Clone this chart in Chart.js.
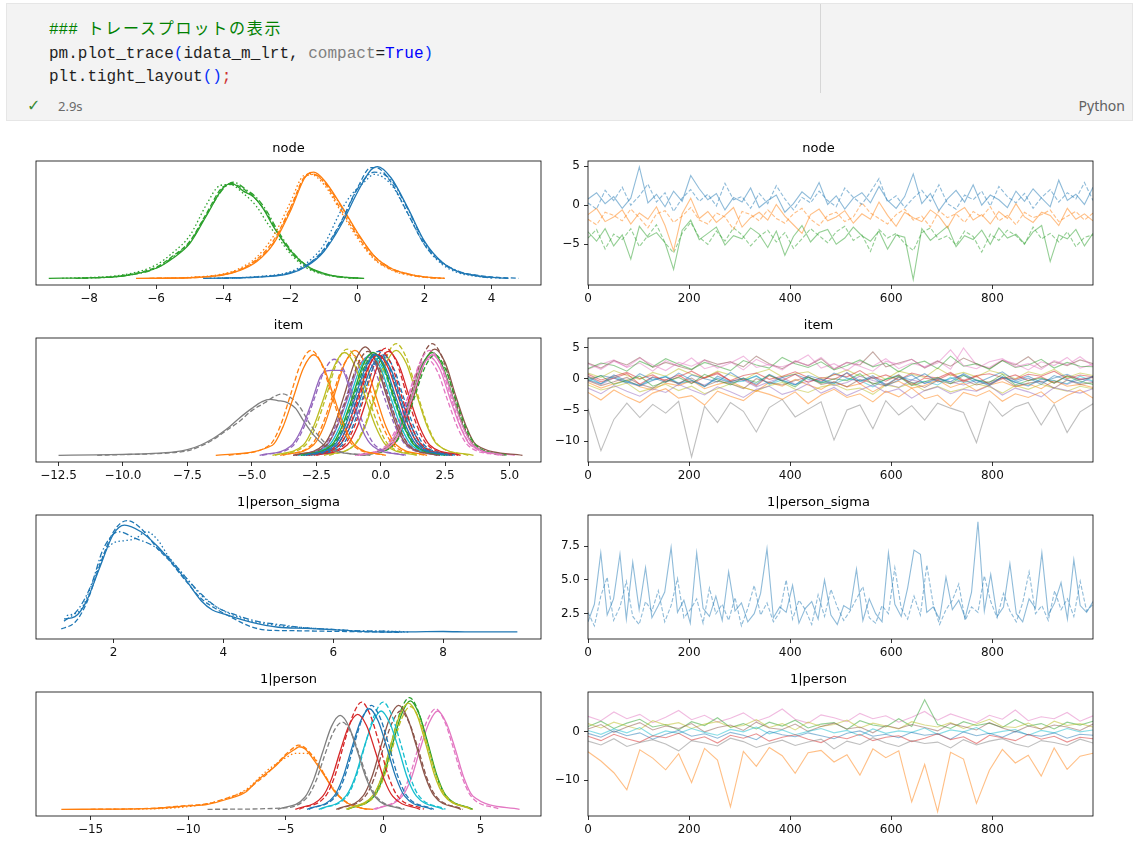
<!DOCTYPE html>
<html>
<head>
<meta charset="utf-8">
<script src="https://cdn.jsdelivr.net/npm/chart.js@4.4.1/dist/chart.umd.min.js"></script>
<style>
  body { margin: 0; background: #fff; width: 1141px; height: 842px; position: relative; overflow: hidden; }
  .cell { position: absolute; left: 6px; top: 3px; width: 1125px; height: 116px; background: #f3f3f3; border: 1px solid #e6e6e6; }
  .code { position: absolute; left: 42px; top: 12px; margin: 0; font: 16px/23.5px "Liberation Mono", "Noto Sans CJK JP", monospace; color: #1f1f1f; }
  .code .c { color: #008000; }
  .code .jp { font-family: "Noto Sans CJK JP", sans-serif; letter-spacing: 1.8px; }
  .code .b { color: #0431fa; }
  .code .g { color: #808080; }
  .code .k { color: #0000ff; }
  .code .r { color: #cd3131; }
  .sep { position: absolute; left: 813px; top: 0; width: 1px; height: 89px; background: #d6d6d6; }
  .check { position: absolute; left: 20px; top: 92px; font: 16px/20px "DejaVu Sans", sans-serif; color: #388a34; }
  .time { position: absolute; left: 51px; top: 93px; font: 13px/18px "Noto Sans", sans-serif; color: #6a6a6a; }
  .lang { position: absolute; right: 7px; top: 92px; font: 14px/20px "Noto Sans", sans-serif; color: #616161; }
  .panel { position: absolute; }
</style>
</head>
<body>
<div class="cell">
  <div class="sep"></div>
  <pre class="code"><span class="c">### <span class="jp">トレースプロットの表示</span></span>
pm.plot_trace<span class="b">(</span>idata_m_lrt, <span class="g">compact</span>=<span class="k">True</span><span class="b">)</span>
plt.tight_layout<span class="b">()</span><span class="r">;</span></pre>
  <div class="check">✓</div>
  <div class="time">2.9s</div>
  <div class="lang">Python</div>
</div>

<div class="panel" style="left:16px;top:137px"><canvas id="nodeKde" width="539" height="174"></canvas></div>
<div class="panel" style="left:544px;top:137px"><canvas id="nodeTrace" width="563" height="174"></canvas></div>
<div class="panel" style="left:16px;top:314px"><canvas id="itemKde" width="539" height="174"></canvas></div>
<div class="panel" style="left:544px;top:314px"><canvas id="itemTrace" width="563" height="174"></canvas></div>
<div class="panel" style="left:16px;top:491px"><canvas id="sigmaKde" width="539" height="174"></canvas></div>
<div class="panel" style="left:544px;top:491px"><canvas id="sigmaTrace" width="563" height="174"></canvas></div>
<div class="panel" style="left:16px;top:668px"><canvas id="personKde" width="539" height="174"></canvas></div>
<div class="panel" style="left:544px;top:668px"><canvas id="personTrace" width="563" height="174"></canvas></div>

<script>
const C0 = '#1f77b4', C1 = '#ff7f0e', C2 = '#2ca02c', C3 = '#d62728', C4 = '#9467bd';
const C5 = '#8c564b', C6 = '#e377c2', C7 = '#7f7f7f', C8 = '#bcbd22', C9 = '#17becf';

// ---- tick values / labels ----
const traceTicks = [0, 200, 400, 600, 800];
const traceLabels = ['0', '200', '400', '600', '800'];
const nodeKdeTicks = [-8, -6, -4, -2, 0, 2, 4];
const nodeKdeLabels = ['−8', '−6', '−4', '−2', '0', '2', '4'];
const nodeTraceTicks = [-5, 0, 5];
const nodeTraceLabels = ['−5', '0', '5'];
const itemKdeTicks = [-12.5, -10, -7.5, -5, -2.5, 0, 2.5, 5];
const itemKdeLabels = ['−12.5', '−10.0', '−7.5', '−5.0', '−2.5', '0.0', '2.5', '5.0'];
const itemTraceTicks = [-10, -5, 0, 5];
const itemTraceLabels = ['−10', '−5', '0', '5'];
const sigmaKdeTicks = [2, 4, 6, 8];
const sigmaKdeLabels = ['2', '4', '6', '8'];
const sigmaTraceTicks = [2.5, 5, 7.5];
const sigmaTraceLabels = ['2.5', '5.0', '7.5'];
const personKdeTicks = [-15, -10, -5, 0, 5];
const personKdeLabels = ['−15', '−10', '−5', '0', '5'];
const personTraceTicks = [-10, 0];
const personTraceLabels = ['−10', '0'];

// ---- node: kde (x, relative density) per variable and chain ----
const nodeColors = [C0, C1, C2];
const nodeKde = [
  [
    [[-4.6,0],[-3,.01],[-2,.045],[-1.5,.11],[-1,.24],[-0.5,.47],[0,.77],[0.4,.97],[0.6,1],[1,.9],[1.5,.63],[2,.33],[2.5,.15],[3,.06],[3.5,.025],[4,.008],[4.5,0]],
    [[-4.2,0],[-3,.012],[-2,.05],[-1.5,.12],[-1,.26],[-0.5,.5],[0,.81],[0.4,.99],[0.55,.99],[1,.86],[1.5,.58],[2,.3],[2.5,.14],[3,.06],[3.5,.03],[4,.012],[4.8,0]],
    [[-4.4,0],[-3,.015],[-2,.06],[-1.5,.14],[-1,.3],[-0.5,.6],[-0.2,.74],[0.2,.86],[0.5,.93],[1,.84],[1.5,.58],[2,.3],[2.5,.13],[3,.05],[3.5,.02],[4,.006],[4.3,0]],
    [[-4,0],[-3,.01],[-2,.05],[-1.5,.12],[-1,.25],[-0.5,.49],[0,.8],[0.5,.95],[1,.88],[1.5,.62],[2,.32],[2.5,.15],[3,.065],[3.5,.025],[4,0]]
  ],
  [
    [[-6.6,0],[-5,.005],[-4,.03],[-3.5,.07],[-3,.15],[-2.5,.31],[-2,.6],[-1.5,.93],[-1.3,.95],[-1,.88],[-0.5,.66],[0,.41],[0.5,.2],[1,.09],[1.5,.04],[2,.012],[2.6,0]],
    [[-6.2,0],[-5,.006],[-4,.035],[-3.5,.08],[-3,.17],[-2.5,.34],[-2,.63],[-1.6,.9],[-1.4,.94],[-1,.86],[-0.5,.62],[0,.38],[0.5,.18],[1,.08],[1.5,.035],[2,.01],[2.5,0]],
    [[-5.8,0],[-5,.008],[-4,.04],[-3.5,.09],[-3,.19],[-2.5,.38],[-2,.68],[-1.6,.92],[-1.4,.93],[-1,.84],[-0.5,.6],[0,.36],[0.5,.17],[1,.075],[1.5,.03],[2,.01],[2.4,0]],
    [[-6,0],[-5,.005],[-4,.03],[-3.5,.075],[-3,.16],[-2.5,.32],[-2,.62],[-1.5,.92],[-1.3,.93],[-1,.87],[-0.5,.65],[0,.4],[0.5,.2],[1,.09],[1.5,.04],[2,.012],[2.6,0]]
  ],
  [
    [[-9.2,0],[-8,.004],[-7,.02],[-6,.09],[-5.5,.18],[-5,.31],[-4.5,.56],[-4,.81],[-3.75,.85],[-3.4,.78],[-3.1,.73],[-2.8,.62],[-2.5,.46],[-2,.25],[-1.5,.11],[-1,.045],[-0.5,.012],[0.2,0]],
    [[-8.4,0],[-7,.025],[-6,.1],[-5.5,.2],[-5,.33],[-4.5,.58],[-4,.82],[-3.7,.84],[-3.3,.78],[-3,.7],[-2.7,.58],[-2.4,.42],[-2,.24],[-1.5,.1],[-1,.04],[-0.4,.01],[0.1,0]],
    [[-8.8,0],[-7,.03],[-6,.12],[-5.5,.23],[-5,.38],[-4.5,.66],[-4.1,.83],[-3.8,.84],[-3.4,.76],[-3,.64],[-2.7,.5],[-2.4,.38],[-2,.22],[-1.5,.09],[-1,.035],[-0.5,.01],[0,0]],
    [[-8.2,0],[-7,.02],[-6,.09],[-5.5,.19],[-5,.32],[-4.5,.57],[-4,.8],[-3.7,.86],[-3.3,.79],[-3,.72],[-2.7,.6],[-2.4,.44],[-2,.26],[-1.5,.11],[-1,.04],[-0.5,.01],[0.1,0]]
  ]
];

// ---- node: draws (two chains per variable) ----
const nodeTrace = [
  [
    [0.8,1.6,0.2,1.1,-0.4,0.9,4.9,0.3,1.4,-0.2,1.8,0.5,3.8,2.1,0.7,1.5,-0.6,1.0,0.4,2.2,-0.3,0.6,1.3,-0.9,0.2,1.7,0.8,2.9,0.1,1.2,-0.5,0.9,1.6,0.3,2.4,0.6,-0.4,1.1,4.0,0.2,1.5,-0.7,0.8,1.9,0.4,2.6,0.0,1.3,0.7,-0.3,1.8,0.5,2.1,0.9,-0.2,3.2,0.6,1.4,0.1,2.3],
    [0.3,-0.5,1.9,0.6,2.3,0.0,1.2,2.7,0.4,1.6,-0.8,0.9,2.0,0.5,1.4,-0.1,2.8,0.7,1.1,-0.4,1.5,0.2,2.5,0.8,-0.6,1.0,0.3,1.8,0.6,-0.2,2.2,1.0,0.1,1.7,3.4,0.4,1.2,-0.3,0.9,1.9,0.5,2.6,0.2,-0.5,1.3,0.7,1.8,-0.1,2.4,1.1,0.3,1.5,-0.4,1.0,2.0,0.4,1.6,0.8,2.9,0.6]
  ],
  [
    [-1.2,-0.4,-2.1,-1.5,-0.6,-2.4,-1.0,-1.8,-0.2,-2.6,-5.8,-1.1,0.9,-1.7,-0.8,-2.2,-1.3,-0.3,-2.8,-1.6,-0.9,-1.9,0.1,-1.4,-2.5,-3.6,-1.2,-0.5,-2.0,-1.5,-0.7,-2.3,-1.1,-1.8,0.4,-1.3,-2.7,-0.9,-1.6,-2.1,-0.6,-1.4,-2.9,-1.0,-0.3,-1.9,-1.2,-2.4,-0.8,-1.7,0.2,-1.5,-2.2,-0.9,-1.3,-2.6,-0.4,-1.8,-1.1,-2.0],
    [-1.8,-2.5,-0.9,-1.3,-2.0,-0.5,-1.6,-2.9,-1.1,-0.7,-2.2,-1.4,-0.3,-1.9,-2.4,-1.0,-1.5,-3.1,-0.8,-1.2,-2.0,-0.6,-1.7,-2.3,-1.1,-0.4,-1.8,-2.6,-1.3,-0.9,-2.1,-1.5,0.3,-1.0,-1.7,-2.4,-1.2,-0.5,-1.9,-1.4,-2.8,-0.7,-1.6,-1.1,-2.2,-0.8,-1.5,-0.2,-2.0,-1.3,-2.5,-0.9,-1.6,-1.2,-0.6,-2.1,-1.4,-0.8,-1.9,-1.0]
  ],
  [
    [-3.4,-4.6,-3.0,-5.2,-3.8,-6.9,-2.7,-4.1,-3.5,-4.8,-8.2,-3.2,-1.9,-4.4,-3.6,-2.8,-5.1,-3.9,-4.3,-2.9,-3.7,-5.4,-3.3,-6.4,-4.0,-2.6,-4.7,-3.5,-3.1,-5.0,-4.2,-2.8,-3.9,-4.6,-3.3,-5.6,-3.8,-4.1,-9.5,-3.0,-4.5,-3.6,-2.7,-5.3,-3.9,-4.4,-3.2,-5.0,-2.9,-4.2,-3.7,-4.9,-3.4,-2.6,-7.2,-3.8,-4.3,-3.1,-5.2,-3.6],
    [-4.2,-3.1,-5.6,-3.7,-4.4,-3.0,-5.3,-3.9,-2.5,-4.8,-6.1,-3.6,-2.2,-4.1,-5.0,-3.3,-4.6,-2.9,-3.8,-5.2,-4.0,-3.2,-4.7,-3.5,-5.5,-4.3,-3.0,-3.9,-4.8,-3.4,-2.7,-4.5,-3.8,-5.9,-3.1,-4.2,-3.6,-4.9,-5.8,-3.5,-2.9,-4.4,-3.9,-5.1,-3.3,-4.0,-6.0,-3.7,-4.5,-3.2,-3.9,-5.0,-2.8,-4.3,-3.6,-4.7,-3.4,-5.3,-4.1,-3.8]
  ]
];

// ---- item ----
const itemColors = [C0, C1, C2, C3, C4, C5, C6, C7, C8, C9, C0, C1, C2, C3, C4, C5, C6, C8];
const itemKde = [
  [[[-3.0,0],[-1.8,.09],[-1.4,.25],[-1.0,.51],[-0.6,.78],[-0.2,.9],[0.2,.78],[0.6,.51],[1.0,.25],[1.4,.09],[2.6,0]],
   [[-2.9,0],[-1.7,.093],[-1.3,.26],[-0.9,.53],[-0.5,.81],[-0.1,.93],[0.3,.81],[0.7,.53],[1.1,.26],[1.5,.093],[2.7,0]]],
  [[[-6.4,0],[-4.2,.09],[-3.8,.25],[-3.4,.51],[-3.0,.78],[-2.6,.9],[-2.2,.78],[-1.8,.51],[-1.4,.25],[-1.0,.09],[0.2,0]],
   [[-5.9,0],[-4.3,.094],[-3.9,.26],[-3.5,.54],[-3.1,.82],[-2.7,.94],[-2.3,.82],[-1.9,.54],[-1.5,.26],[-1.1,.094],[0.1,0]]],
  [[[-3.1,0],[-1.9,.092],[-1.5,.26],[-1.1,.52],[-0.7,.8],[-0.3,.92],[0.1,.8],[0.5,.52],[0.9,.26],[1.3,.092],[2.5,0]],
   [[-3.0,0],[-1.85,.09],[-1.45,.25],[-1.05,.51],[-0.65,.78],[-0.25,.9],[0.15,.78],[0.55,.51],[0.95,.25],[1.35,.09],[2.6,0]]],
  [[[-2.9,0],[-1.7,.09],[-1.3,.25],[-0.9,.51],[-0.5,.78],[-0.1,.9],[0.3,.78],[0.7,.51],[1.1,.25],[1.5,.09],[2.7,0]],
   [[-2.8,0],[-1.6,.094],[-1.2,.26],[-0.8,.54],[-0.4,.82],[0,.94],[0.4,.82],[0.8,.54],[1.2,.26],[1.6,.094],[2.8,0]]],
  [[[-4.7,0],[-3.5,.08],[-3.1,.22],[-2.7,.46],[-2.3,.72],[-1.9,.76],[-1.5,.76],[-1.1,.5],[-0.7,.22],[-0.3,.08],[0.9,0]],
   [[-4.6,0],[-3.4,.086],[-3.0,.24],[-2.6,.49],[-2.2,.75],[-1.8,.86],[-1.4,.75],[-1.0,.49],[-0.6,.24],[-0.2,.086],[1.0,0]]],
  [[[-3.4,0],[-2.2,.097],[-1.8,.27],[-1.4,.55],[-1.0,.84],[-0.6,.97],[-0.2,.84],[0.2,.55],[0.6,.27],[1.0,.097],[2.2,0]],
   [[-3.3,0],[-2.1,.093],[-1.7,.26],[-1.3,.53],[-0.9,.81],[-0.5,.93],[-0.1,.81],[0.3,.53],[0.7,.26],[1.1,.093],[2.3,0]]],
  [[[-0.8,0],[0.4,.09],[0.8,.25],[1.2,.51],[1.6,.78],[2.0,.9],[2.4,.78],[2.8,.51],[3.2,.25],[3.6,.09],[4.8,0]],
   [[-0.9,0],[0.3,.094],[0.7,.26],[1.1,.54],[1.5,.82],[1.9,.94],[2.3,.82],[2.7,.54],[3.1,.26],[3.5,.094],[4.7,0]]],
  [[[-12.5,0],[-11,.003],[-10,.008],[-9,.015],[-8,.03],[-7.5,.05],[-7,.09],[-6.5,.15],[-6,.23],[-5.5,.33],[-5,.42],[-4.6,.48],[-4.3,.5],[-4,.49],[-3.6,.47],[-3.3,.42],[-3,.31],[-2.6,.18],[-2.2,.09],[-1.8,.04],[-1.4,.02],[-1,.01],[-0.4,0]],
   [[-11,0],[-10,.006],[-9,.012],[-8,.025],[-7.5,.04],[-7,.08],[-6.5,.14],[-6,.22],[-5.5,.3],[-5,.4],[-4.5,.47],[-4.1,.53],[-3.8,.55],[-3.4,.5],[-3.1,.42],[-2.8,.3],[-2.4,.17],[-2,.08],[-1.6,.035],[-1.2,.015],[-0.6,0]]],
  [[[-4.2,0],[-3.0,.092],[-2.6,.26],[-2.2,.52],[-1.8,.8],[-1.4,.92],[-1.0,.8],[-0.6,.52],[-0.2,.26],[0.2,.092],[1.4,0]],
   [[-4.1,0],[-2.9,.095],[-2.5,.27],[-2.1,.54],[-1.7,.83],[-1.3,.95],[-0.9,.83],[-0.5,.54],[-0.1,.27],[0.3,.095],[1.5,0]]],
  [[[-3.2,0],[-2.0,.09],[-1.6,.25],[-1.2,.51],[-0.8,.78],[-0.4,.9],[0,.78],[0.4,.51],[0.8,.25],[1.2,.09],[2.4,0]],
   [[-3.1,0],[-1.9,.088],[-1.5,.25],[-1.1,.5],[-0.7,.77],[-0.3,.88],[0.1,.77],[0.5,.5],[0.9,.25],[1.3,.088],[2.5,0]]],
  [[[-2.8,0],[-1.6,.088],[-1.2,.25],[-0.8,.5],[-0.4,.77],[0,.88],[0.4,.77],[0.8,.5],[1.2,.25],[1.6,.088],[2.8,0]],
   [[-2.7,0],[-1.5,.09],[-1.1,.25],[-0.7,.51],[-0.3,.78],[0.1,.9],[0.5,.78],[0.9,.51],[1.3,.25],[1.7,.09],[2.9,0]]],
  [[[-3.8,0],[-2.6,.094],[-2.2,.26],[-1.8,.54],[-1.4,.82],[-1.0,.94],[-0.6,.82],[-0.2,.54],[0.2,.26],[0.6,.094],[1.8,0]],
   [[-3.9,0],[-2.7,.09],[-2.3,.25],[-1.9,.51],[-1.5,.78],[-1.1,.9],[-0.7,.78],[-0.3,.51],[0.1,.25],[0.5,.09],[1.7,0]]],
  [[[-0.8,0],[0.4,.092],[0.8,.26],[1.2,.52],[1.6,.8],[2.0,.92],[2.4,.8],[2.8,.52],[3.2,.26],[3.6,.092],[4.8,0]],
   [[-0.7,0],[0.5,.09],[0.9,.25],[1.3,.51],[1.7,.78],[2.1,.9],[2.5,.78],[2.9,.51],[3.3,.25],[3.7,.09],[4.9,0]]],
  [[[-2.5,0],[-1.3,.093],[-0.9,.26],[-0.5,.53],[-0.1,.81],[0.3,.93],[0.7,.81],[1.1,.53],[1.5,.26],[1.9,.093],[3.1,0]],
   [[-2.6,0],[-1.4,.096],[-1.0,.27],[-0.6,.55],[-0.2,.84],[0.2,.96],[0.6,.84],[1.0,.55],[1.4,.27],[1.8,.096],[3.0,0]]],
  [[[-3.3,0],[-2.1,.088],[-1.7,.25],[-1.3,.5],[-0.9,.77],[-0.5,.88],[-0.1,.77],[0.3,.5],[0.7,.25],[1.1,.088],[2.3,0]],
   [[-3.4,0],[-2.2,.085],[-1.8,.24],[-1.4,.48],[-1.0,.74],[-0.6,.85],[-0.2,.74],[0.2,.48],[0.6,.24],[1.0,.085],[2.2,0]]],
  [[[-0.7,0],[0.5,.095],[0.9,.27],[1.3,.54],[1.7,.83],[2.1,.95],[2.5,.83],[2.9,.54],[3.3,.27],[3.7,.095],[5.5,0]],
   [[-0.8,0],[0.4,.1],[0.8,.28],[1.2,.57],[1.6,.87],[2.0,1.0],[2.4,.87],[2.8,.57],[3.2,.28],[3.6,.1],[4.8,0]]],
  [[[-0.9,0],[0.3,.088],[0.7,.25],[1.1,.5],[1.5,.77],[1.9,.88],[2.3,.77],[2.7,.5],[3.1,.25],[3.5,.088],[5.2,0]],
   [[-1.0,0],[0.2,.086],[0.6,.24],[1.0,.49],[1.4,.75],[1.8,.86],[2.2,.75],[2.6,.49],[3.0,.24],[3.4,.086],[4.6,0]]],
  [[[-2.2,0],[-1.0,.094],[-0.6,.26],[-0.2,.54],[0.2,.82],[0.6,.94],[1.0,.82],[1.4,.54],[1.8,.26],[2.2,.094],[3.6,0]],
   [[-2.0,0],[-1.0,.1],[-0.6,.28],[-0.2,.57],[0.2,.87],[0.6,1.0],[1.0,.87],[1.4,.57],[1.8,.28],[2.2,.1],[3.4,0]]]
];
const itemTrace = [
  [0.3,-0.8,0.6,-0.4,-1.1,0.2,-0.6,0.9,-0.2,-1.3,0.4,-0.5,0.1,-0.9,0.7,-0.3,-1.0,0.5,-0.1,-0.7,1.0,-0.4,0.2,-1.2,-0.2,0.6,-0.8,0.0,-0.5,0.8,-0.3,-1.1,0.3,-0.6,0.1,-0.9,0.5,-0.2,-0.7,0.4],
  [-2.2,-3.4,-1.8,-2.9,-3.8,-2.3,-1.6,-3.1,-2.7,-4.2,-2.0,-2.8,-3.5,-1.9,-2.5,-3.3,-2.1,-4.0,-2.6,-1.7,-3.0,-2.4,-3.7,-2.0,-2.9,-1.5,-3.2,-2.6,-4.4,-2.2,-2.8,-1.9,-3.6,-2.4,-3.0,-2.1,-3.9,-2.7,-1.8,-3.1],
  [-0.1,0.5,-0.9,-0.3,0.4,-1.2,-0.5,0.2,-0.8,0.7,-0.2,-1.0,0.1,-0.6,0.6,-0.4,-1.3,0.3,-0.7,0.0,-0.3,0.8,-0.9,-0.1,0.4,-1.1,-0.5,0.2,-0.8,0.5,-0.2,-0.6,0.7,-1.0,-0.3,0.1,-0.7,0.4,-0.4,-0.9],
  [0.4,-0.5,0.1,0.8,-0.9,0.3,-0.2,0.6,-0.7,0.2,1.0,-0.4,0.0,-1.1,0.5,-0.3,0.7,-0.6,0.2,-0.1,0.9,-0.8,0.3,-0.4,0.6,-1.0,0.1,-0.2,0.8,-0.5,0.4,-0.9,0.0,0.6,-0.3,0.3,-0.7,0.5,-0.1,0.2],
  [-1.5,-2.4,-1.1,-2.0,-2.8,-1.6,-2.2,-0.9,-1.8,-2.6,-1.3,-2.1,-3.0,-1.7,-1.2,-2.5,-1.9,-0.8,-2.3,-1.4,-2.7,-1.8,-1.0,-2.2,-1.6,-3.1,-1.9,-1.3,-2.4,-1.7,-2.0,-1.1,-2.6,-1.5,-2.1,-2.9,-1.4,-1.9,-2.3,-1.6],
  [-0.3,-1.1,-0.5,0.2,-0.9,-1.5,-0.2,-0.7,0.1,-1.2,-0.4,-0.8,-1.6,0.0,-0.6,-1.0,-0.3,0.3,-0.9,-0.5,-1.3,-0.1,-0.7,-1.1,0.2,-0.6,-1.4,-0.3,-0.8,-0.2,-1.0,-0.5,0.1,-1.2,-0.7,-0.4,-1.5,-0.2,-0.9,-0.6],
  [2.4,1.5,2.8,1.9,3.3,2.2,1.3,2.6,2.0,3.0,1.7,2.5,3.6,1.8,2.3,1.4,2.9,2.1,3.4,1.6,2.6,2.0,1.2,2.8,2.3,3.1,1.8,2.5,4.6,2.1,1.6,2.7,3.2,1.9,2.4,1.5,2.9,2.2,3.5,2.0],
  [-4.8,-11.5,-6.5,-3.9,-6.2,-4.1,-5.5,-3.6,-12.5,-4.4,-7.0,-3.8,-5.2,-8.5,-4.6,-3.3,-6.1,-4.9,-3.7,-9.8,-5.0,-4.2,-8.0,-3.5,-5.8,-4.3,-6.6,-3.9,-4.7,-5.4,-10.2,-3.6,-6.0,-4.5,-3.8,-7.4,-4.1,-8.6,-5.3,-4.0],
  [-1.0,-1.8,-1.3,-0.7,-2.1,-1.5,-0.9,-1.9,-1.2,-2.4,-1.6,-0.8,-1.4,-2.0,-1.1,-0.6,-1.7,-2.2,-1.3,-0.9,-1.8,-1.5,-2.5,-1.0,-1.4,-0.7,-1.9,-1.2,-2.1,-1.6,-0.8,-1.3,-2.3,-1.1,-1.7,-0.9,-1.5,-2.0,-1.2,-1.6],
  [-0.1,-0.8,0.3,-0.5,-1.1,-0.2,0.4,-0.7,-0.3,-1.2,0.1,-0.6,-0.4,0.5,-0.9,-0.2,-1.0,0.2,-0.5,-0.8,0.0,-0.3,-1.3,-0.1,0.6,-0.7,-0.4,-1.0,0.2,-0.6,-0.2,-0.9,0.3,-0.5,-1.1,0.0,-0.3,-0.8,0.4,-0.4],
  [-0.4,0.5,0.1,-0.7,0.8,-0.2,0.3,-0.9,0.6,0.0,-0.5,1.0,-0.3,0.4,-0.8,0.2,0.7,-0.1,-0.6,0.9,0.1,-0.4,0.5,-1.0,0.3,-0.2,0.8,-0.5,0.0,0.6,-0.7,0.2,1.1,-0.3,0.4,-0.6,0.1,0.7,-0.2,0.3],
  [-0.6,-1.5,-0.8,-0.2,-1.3,-1.8,-0.7,-1.1,-0.3,-1.6,-0.9,-0.4,-1.4,-2.0,-0.6,-1.2,-0.1,-1.0,-1.7,-0.5,-1.3,-0.8,-2.1,-0.9,-0.4,-1.5,-1.1,-0.2,-1.4,-0.7,-1.9,-1.0,-0.5,-1.3,-0.8,-1.6,-0.3,-1.2,-0.9,-1.4],
  [1.6,2.5,2.1,1.2,2.8,1.9,3.2,2.3,1.5,2.6,2.0,1.3,2.9,2.2,1.7,3.4,2.4,1.8,2.7,1.4,2.1,3.0,1.9,2.5,1.1,2.3,2.8,1.6,3.6,2.0,2.4,1.5,2.9,1.8,2.2,3.1,1.7,2.6,2.0,1.9],
  [0.7,-0.2,0.4,1.0,0.0,0.6,-0.5,0.3,1.2,0.1,0.8,-0.3,0.5,0.9,-0.1,0.4,1.1,0.2,-0.4,0.7,0.3,1.3,0.0,0.6,-0.2,0.9,0.4,0.1,1.0,-0.3,0.5,0.8,0.2,-0.1,0.7,0.4,1.2,0.0,0.6,0.3],
  [-0.2,-0.9,0.1,-0.6,-1.2,-0.3,0.3,-0.8,-0.4,-1.0,0.0,-0.7,-0.2,-1.3,-0.5,0.2,-0.9,-0.4,-0.1,-1.1,-0.6,0.4,-0.3,-0.8,-1.4,-0.2,-0.7,0.1,-0.5,-1.0,-0.3,-0.8,0.2,-0.6,-1.2,-0.1,-0.4,-0.9,0.0,-0.5],
  [2.5,1.7,2.9,2.2,3.4,1.8,2.6,2.0,1.4,3.0,2.3,2.7,1.9,3.6,2.4,1.6,2.8,2.1,3.2,1.5,2.6,2.2,4.3,1.9,2.5,3.1,1.7,2.8,2.0,3.3,2.4,1.6,2.9,2.2,3.5,1.8,2.7,2.1,3.0,2.4],
  [1.5,2.3,3.0,1.8,2.5,1.2,2.9,2.0,3.3,1.6,2.2,2.7,1.4,3.1,2.1,1.9,2.6,3.8,1.7,2.4,1.3,2.8,2.0,3.2,1.6,2.5,1.9,2.9,1.5,4.9,2.2,1.8,3.0,2.4,1.4,2.7,2.1,3.4,1.7,2.3],
  [0.9,0.2,1.3,0.5,-0.1,1.0,0.4,1.6,0.7,0.1,1.2,0.6,-0.2,0.9,1.5,0.3,0.8,1.1,0.0,0.6,1.4,0.4,0.9,-0.1,1.2,0.7,0.2,1.7,0.5,1.0,0.3,1.3,0.8,0.0,1.1,0.6,1.5,0.2,0.9,0.5]
];

// ---- 1|person_sigma ----
const sigmaKde = [
  [[1.1,.12],[1.3,.14],[1.5,.27],[1.75,.58],[2.0,.88],[2.2,.96],[2.5,.9],[2.8,.77],[3.0,.66],[3.3,.48],[3.6,.28],[3.8,.2],[4.0,.165],[4.5,.09],[5.0,.045],[5.5,.036],[6.0,.024],[6.5,.008],[7.0,.002],[7.5,.004],[8.0,.007],[8.5,.003],[9.35,.004]],
  [[1.05,.03],[1.3,.09],[1.5,.25],[1.75,.6],[2.0,.9],[2.25,1.0],[2.5,.93],[2.8,.75],[3.0,.65],[3.3,.47],[3.6,.3],[3.9,.2],[4.2,.12],[4.5,.05],[4.8,.02],[5.2,.015],[5.8,.01],[6.5,.005],[7.2,0]],
  [[1.15,.15],[1.4,.2],[1.6,.42],[1.8,.68],[2.0,.8],[2.2,.82],[2.4,.84],[2.6,.9],[2.8,.83],[3.0,.68],[3.3,.5],[3.6,.33],[3.9,.22],[4.2,.15],[4.6,.09],[5.0,.06],[5.5,.04],[6.0,.025],[6.6,.01],[7.2,.008],[7.4,0]],
  [[1.1,.1],[1.35,.2],[1.6,.43],[1.8,.73],[2.0,.88],[2.1,.9],[2.4,.84],[2.7,.78],[3.0,.67],[3.3,.5],[3.6,.34],[3.9,.22],[4.2,.16],[4.6,.1],[5.0,.07],[5.5,.04],[6.0,.025],[6.5,.012],[7.0,.01],[7.3,0]]
];
const sigmaTrace = [
  [1.9,3.2,7.0,2.4,3.6,6.9,2.1,6.3,2.8,5.9,2.2,3.1,4.1,7.4,2.6,3.5,1.8,7.0,2.9,2.3,3.8,2.0,5.6,2.7,3.3,1.9,2.5,4.0,7.3,2.2,3.0,2.6,4.6,1.8,2.9,3.4,2.1,5.0,2.4,1.7,3.1,2.8,5.8,2.0,3.6,2.5,1.9,7.0,3.2,2.3,4.4,7.2,6.9,2.6,3.0,2.1,5.2,2.8,3.5,2.2,4.1,9.3,2.7,5.4,2.3,3.0,6.2,2.5,1.9,3.6,2.9,7.0,2.4,3.3,4.8,2.1,6.5,3.1,2.6,3.4],
  [2.6,1.6,3.8,5.2,2.0,3.0,4.9,2.3,1.7,3.4,2.7,4.2,1.9,3.1,5.1,2.2,2.8,3.6,1.8,4.4,2.5,3.2,2.0,3.7,1.6,2.9,4.6,2.4,3.3,1.9,2.6,5.0,2.1,3.5,2.8,1.7,3.9,2.3,4.3,3.0,2.0,2.7,3.6,4.5,2.2,1.8,3.1,2.5,5.9,2.9,2.1,3.8,2.4,6.1,3.2,1.7,2.8,3.5,4.7,2.0,3.0,2.6,5.3,3.4,2.2,4.0,2.7,1.9,3.3,5.6,2.5,3.1,2.0,4.2,2.8,3.6,2.3,4.9,2.7,3.2]
];

// ---- 1|person ----
const personColors = [C7, C3, C0, C9, C5, C8, C2, C6, C1];
const personKde = [
  [[[-5.4,0],[-4.0,.11],[-3.55,.27],[-3.1,.51],[-2.65,.74],[-2.2,.84],[-1.75,.74],[-1.3,.51],[-0.85,.27],[-0.4,.11],[1.0,0]],
   [[-9.0,0],[-5.3,.01],[-3.9,.105],[-3.45,.25],[-3.0,.48],[-2.55,.69],[-2.1,.78],[-1.65,.69],[-1.2,.48],[-0.75,.25],[-0.3,.105],[1.1,0]]],
  [[[-4.5,0],[-3.1,.115],[-2.65,.27],[-2.2,.52],[-1.75,.75],[-1.3,.85],[-0.85,.75],[-0.4,.52],[0.05,.27],[0.5,.115],[1.9,0]],
   [[-4.3,0],[-2.9,.13],[-2.45,.31],[-2.0,.59],[-1.55,.84],[-1.1,.96],[-0.65,.84],[-0.2,.59],[0.25,.31],[0.7,.13],[2.1,0]]],
  [[[-3.9,0],[-2.5,.12],[-2.05,.29],[-1.6,.55],[-1.15,.79],[-0.7,.9],[-0.25,.79],[0.2,.55],[0.65,.29],[1.1,.12],[2.5,0]],
   [[-3.8,0],[-2.4,.125],[-1.95,.3],[-1.5,.57],[-1.05,.82],[-0.6,.93],[-0.15,.82],[0.3,.57],[0.75,.3],[1.2,.125],[2.6,0]]],
  [[[-3.3,0],[-1.9,.12],[-1.45,.28],[-1.0,.54],[-0.55,.77],[-0.1,.88],[0.35,.77],[0.8,.54],[1.25,.28],[1.7,.12],[3.1,0]],
   [[-3.2,0],[-1.8,.13],[-1.35,.31],[-0.9,.59],[-0.45,.84],[0,.96],[0.45,.84],[0.9,.59],[1.35,.31],[1.8,.13],[3.2,0]]],
  [[[-2.4,0],[-1.0,.125],[-0.55,.3],[-0.1,.57],[0.35,.82],[0.8,.93],[1.25,.82],[1.7,.57],[2.15,.3],[2.6,.125],[4.0,0]],
   [[-2.3,0],[-0.9,.12],[-0.45,.28],[0,.54],[0.45,.77],[0.9,.88],[1.35,.77],[1.8,.54],[2.25,.28],[2.7,.12],[4.1,0]]],
  [[[-1.9,0],[-0.5,.13],[-0.05,.3],[0.4,.58],[0.85,.84],[1.3,.95],[1.75,.84],[2.2,.58],[2.65,.3],[3.1,.13],[4.5,0]],
   [[-1.8,0],[-0.4,.125],[0.05,.29],[0.5,.56],[0.95,.81],[1.4,.92],[1.85,.81],[2.3,.56],[2.75,.29],[3.2,.125],[4.6,0]]],
  [[[-1.8,0],[-0.4,.13],[0.05,.31],[0.5,.59],[0.95,.85],[1.4,.97],[1.85,.85],[2.3,.59],[2.75,.31],[3.2,.13],[4.6,0]],
   [[-1.85,0],[-0.45,.135],[0,.32],[0.45,.61],[0.9,.88],[1.35,1.0],[1.8,.88],[2.25,.61],[2.7,.32],[3.15,.135],[4.55,0]]],
  [[[-0.4,0],[1.0,.12],[1.45,.28],[1.9,.54],[2.35,.77],[2.8,.88],[3.25,.77],[3.7,.54],[4.15,.28],[4.6,.12],[7.0,0]],
   [[-0.5,0],[0.9,.12],[1.35,.29],[1.8,.55],[2.25,.79],[2.7,.9],[3.15,.79],[3.6,.55],[4.05,.29],[4.5,.12],[6.0,0]]],
  [[[-16.5,0],[-12,.006],[-10,.03],[-9,.045],[-8,.09],[-7,.16],[-6.5,.25],[-6,.32],[-5.5,.39],[-5,.48],[-4.5,.54],[-4.3,.56],[-4,.54],[-3.5,.43],[-3,.3],[-2.5,.16],[-2,.075],[-1.5,.03],[-1,.006],[-0.5,0]],
   [[-15,0],[-12,.008],[-10,.035],[-9,.05],[-8,.1],[-7,.17],[-6.5,.24],[-6,.31],[-5.5,.4],[-5,.49],[-4.6,.55],[-4.35,.575],[-4,.55],[-3.5,.45],[-3,.31],[-2.5,.17],[-2,.08],[-1.5,.03],[-0.8,0]],
   [[-14,0],[-11,.01],[-9,.05],[-8,.1],[-7,.18],[-6,.34],[-5,.46],[-4.5,.5],[-4,.5],[-3.6,.48],[-3.2,.37],[-2.8,.25],[-2.3,.13],[-1.8,.05],[-1.2,.015],[-0.7,0]]]
];
const personTrace = [
  [-2.0,-2.8,-1.5,-3.1,-2.3,-1.7,-2.6,-4.0,-1.9,-2.4,-3.0,-1.4,-2.1,-3.3,-2.5,-1.8,-2.9,-2.2,-1.6,-3.6,-2.0,-2.7,-1.3,-2.4,-3.1,-1.9,-2.5,-2.2,-3.4,-1.7,-2.8,-2.0,-1.5,-2.6,-3.2,-1.9,-2.3,-2.9,-1.6,-2.4],
  [-1.0,-1.9,-0.6,-1.5,-2.2,-0.9,-1.3,-0.4,-1.8,-1.1,-2.4,-0.8,-1.4,-0.5,-2.0,-1.2,-0.7,-1.6,-2.3,-1.0,-1.5,-0.6,-1.9,-1.2,-0.9,-2.1,-1.4,-0.5,-1.7,-1.1,-2.5,-0.8,-1.3,-1.9,-0.6,-1.6,-1.0,-2.2,-1.2,-1.5],
  [-0.4,-1.2,0.1,-0.9,-0.3,-1.6,-0.6,0.2,-1.0,-0.5,-1.4,-0.2,-0.8,-1.7,0.0,-0.7,-1.1,-0.3,-0.9,-1.5,-0.4,0.1,-1.0,-0.6,-1.3,-0.2,-0.8,-0.5,-1.6,-0.1,-0.9,-0.4,-1.2,0.0,-0.7,-1.0,-0.3,-1.4,-0.6,-0.8],
  [0.2,-0.6,0.5,-0.3,0.8,-0.9,0.1,-0.4,0.6,-0.2,-0.8,0.4,-0.1,0.9,-0.5,0.3,-0.7,0.0,0.6,-0.3,0.2,-0.9,0.5,-0.4,0.1,-0.2,0.7,-0.6,0.3,-0.1,0.8,-0.5,0.0,0.4,-0.8,0.2,-0.3,0.6,-0.1,0.3],
  [0.5,1.4,-0.2,0.9,1.8,0.3,1.1,0.6,1.6,-0.1,0.8,1.3,0.2,1.9,0.7,0.4,1.5,0.0,1.0,1.7,0.5,0.9,-0.3,1.2,0.6,1.4,0.8,0.1,1.6,1.0,0.3,1.8,0.7,-0.1,1.1,0.5,1.3,0.9,0.2,1.5],
  [1.6,0.7,1.9,1.1,0.4,2.2,1.3,1.8,0.6,1.5,2.0,0.9,1.2,2.4,0.8,1.6,0.3,1.9,1.0,1.4,2.3,0.7,1.7,1.1,0.5,2.0,1.3,0.9,1.8,0.6,1.5,2.5,1.0,0.8,1.7,0.4,2.1,1.2,1.6,0.9],
  [1.0,2.1,0.6,1.7,2.5,0.9,1.4,0.3,2.0,1.2,2.8,0.8,1.6,0.5,1.9,1.1,2.3,0.7,1.5,1.8,0.4,2.2,1.3,0.9,2.6,1.0,6.5,1.4,0.6,2.0,1.2,1.7,0.8,2.4,1.1,1.6,0.5,1.9,1.3,2.1],
  [3.1,2.2,4.0,2.6,3.5,1.8,2.9,4.3,2.4,3.3,1.9,2.7,3.8,2.1,3.0,4.6,2.5,1.7,3.4,2.8,2.0,3.7,2.6,3.2,1.9,2.9,4.1,2.3,3.6,2.7,1.8,3.3,2.5,4.4,2.2,3.0,2.6,3.9,2.1,3.2],
  [-4.2,-6.1,-8.5,-12.0,-3.8,-5.5,-7.9,-4.6,-10.5,-3.5,-5.9,-15.5,-4.1,-7.2,-3.3,-5.0,-8.6,-4.4,-3.9,-6.3,-4.8,-9.0,-3.6,-5.4,-4.0,-14.5,-6.8,-16.5,-4.3,-5.7,-14.8,-8.0,-3.7,-6.5,-4.9,-9.2,-3.4,-7.8,-5.1,-4.5]
];

// ---- drawing ----
const chainDash = [[], [5, 2.5], [1.5, 2.5], [6, 2.5, 1.5, 2.5]];
const tickFont = { family: 'DejaVu Sans', size: 12 };

function alpha(hex, a) {
  const n = parseInt(hex.slice(1), 16);
  return 'rgba(' + (n >> 16) + ',' + ((n >> 8) & 255) + ',' + (n & 255) + ',' + a + ')';
}

function kdeDatasets(curves, colors) {
  const sets = [];
  curves.forEach((chains, i) => {
    chains.forEach((pts, c) => {
      sets.push({
        data: pts.map(p => ({ x: p[0], y: p[1] })),
        borderColor: colors[i],
        borderWidth: 1.3,
        borderDash: chainDash[c],
        pointRadius: 0,
        fill: false,
        cubicInterpolationMode: 'monotone'
      });
    });
  });
  return sets;
}

function traceDatasets(series, colors) {
  const sets = [];
  series.forEach((chains, i) => {
    chains.forEach((vals, c) => {
      sets.push({
        data: vals.map((v, k) => ({ x: k * 999 / (vals.length - 1), y: v })),
        borderColor: alpha(colors[i], 0.5),
        borderWidth: 1.1,
        borderDash: c === 0 ? [] : [4, 2],
        pointRadius: 0,
        fill: false,
        tension: 0
      });
    });
  });
  return sets;
}

const frame = {
  id: 'frame',
  afterDatasetsDraw(chart) {
    const a = chart.chartArea, ctx = chart.ctx;
    ctx.save();
    ctx.strokeStyle = '#000';
    ctx.lineWidth = 0.8;
    ctx.strokeRect(a.left, a.top, a.right - a.left, a.bottom - a.top);
    ctx.restore();
  }
};

function axis(min, max, ticks, labels, horizontal) {
  return {
    type: 'linear',
    min: min,
    max: max,
    afterBuildTicks: s => { s.ticks = ticks.map(v => ({ value: v })); },
    afterFit: s => {
      if (horizontal) { s.height = 26; s.paddingLeft = 0; s.paddingRight = 0; }
      else { s.width = 44; s.paddingTop = 0; s.paddingBottom = 0; }
    },
    ticks: {
      autoSkip: false, maxRotation: 0, padding: horizontal ? 3 : 4,
      font: tickFont, color: '#111',
      callback: (v, i) => labels[i]
    },
    grid: { display: true, drawOnChartArea: false, drawTicks: true, tickLength: 4, color: '#000', lineWidth: 0.8 },
    border: { display: false }
  };
}

function panel(id, title, datasets, xs, ys) {
  const showY = !!ys.ticks;
  const yScale = showY ? axis(ys.min, ys.max, ys.ticks, ys.labels, false)
                       : { type: 'linear', display: false, min: ys.min, max: ys.max };
  new Chart(document.getElementById(id), {
    type: 'line',
    data: { datasets: datasets },
    plugins: [frame],
    options: {
      responsive: false,
      animation: false,
      events: [],
      layout: { autoPadding: false, padding: { left: showY ? 0 : 20, right: 14, top: 0, bottom: 0 } },
      scales: {
        x: axis(xs.min, xs.max, xs.ticks, xs.labels, true),
        y: yScale
      },
      plugins: {
        legend: { display: false },
        tooltip: { enabled: false },
        title: {
          display: true, text: title, color: '#000',
          font: { family: 'DejaVu Sans', size: 13, weight: 'normal', lineHeight: 1.2 },
          padding: { top: 4, bottom: 4.4 }
        }
      }
    }
  });
}

const traceX = { min: 0, max: 999, ticks: traceTicks, labels: traceLabels };

panel('nodeKde', 'node', kdeDatasets(nodeKde, nodeColors),
  { min: -9.58, max: 5.47, ticks: nodeKdeTicks, labels: nodeKdeLabels }, { min: -0.06, max: 1.05 });
panel('nodeTrace', 'node', traceDatasets(nodeTrace, nodeColors), traceX,
  { min: -10.2, max: 5.65, ticks: nodeTraceTicks, labels: nodeTraceLabels });

panel('itemKde', 'item', kdeDatasets(itemKde, itemColors),
  { min: -13.375, max: 6.22, ticks: itemKdeTicks, labels: itemKdeLabels }, { min: -0.06, max: 1.05 });
panel('itemTrace', 'item', traceDatasets(itemTrace.map(s => [s]), itemColors), traceX,
  { min: -13.3, max: 6.5, ticks: itemTraceTicks, labels: itemTraceLabels });

panel('sigmaKde', '1|person_sigma', kdeDatasets([sigmaKde], [C0]),
  { min: 0.59, max: 9.78, ticks: sigmaKdeTicks, labels: sigmaKdeLabels }, { min: -0.06, max: 1.05 });
panel('sigmaTrace', '1|person_sigma', traceDatasets([sigmaTrace], [C0]), traceX,
  { min: 0.63, max: 9.8, ticks: sigmaTraceTicks, labels: sigmaTraceLabels });

panel('personKde', '1|person', kdeDatasets(personKde, personColors),
  { min: -17.8, max: 8.1, ticks: personKdeTicks, labels: personKdeLabels }, { min: -0.06, max: 1.05 });
panel('personTrace', '1|person', traceDatasets(personTrace.map(s => [s]), personColors), traceX,
  { min: -17.4, max: 8.1, ticks: personTraceTicks, labels: personTraceLabels });
</script>
</body>
</html>
